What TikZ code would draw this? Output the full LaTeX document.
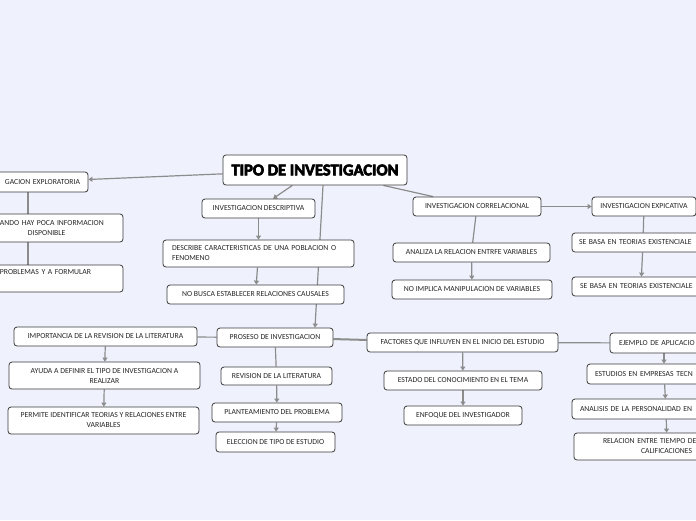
\documentclass[tikz,border=0pt]{standalone}
\usepackage{fontspec}
\setmainfont{Carlito}
\newfontfamily\titlefont{Carlito Bold}[FakeBold=4]
\usepackage{tikz}
\usepackage{xcolor}
\usetikzlibrary{arrows.meta, calc}

\definecolor{pagebg}{HTML}{EFF2FD}
\definecolor{linegray}{HTML}{8C8C8C}
\definecolor{boxline}{HTML}{3A3A3A}

\pgfdeclarelayer{bg}
\pgfdeclarelayer{edges}
\pgfsetlayers{bg,edges,main}

\begin{document}
\begin{tikzpicture}[
    x=1pt, y=-1pt,
    box/.style={rectangle, draw=boxline, fill=white, line width=0.8pt, rounded corners=3pt, inner sep=0pt, align=center, minimum height=19pt, text=black!85, font=\fontsize{7.7}{10}\selectfont},
    titlebox/.style={box, minimum width=184pt, minimum height=30pt, text=black, font=\titlefont\fontsize{16.5}{18}\selectfont},
    arrow/.style={-{Triangle[length=4pt,width=5pt]}, line width=1.2pt, draw=linegray},
    link/.style={line width=1.2pt, draw=linegray}
]
    \useasboundingbox (0,0) rectangle (696,520);
    \begin{pgfonlayer}{bg}
        \fill[pagebg] (0,0) rectangle (696,520);
    \end{pgfonlayer}
    \clip (0,0) rectangle (696,520);

    % Central topic
    \node[titlebox] (title) at (315,170) {TIPO DE INVESTIGACION};

    % Exploratoria branch (cut at the left edge)
    \node[box, minimum width=120pt, minimum height=20pt, text width=104pt, align=right] (explor) at (28,182) {GACION EXPLORATORIA};
    \node[box, minimum width=190pt, minimum height=28pt, text width=190pt, align=left] (cuando) at (28,228) {\hspace*{67pt}ANDO HAY POCA INFORMACION\\\hspace*{95pt}DISPONIBLE};
    \node[box, minimum width=190pt, minimum height=27pt, text width=190pt, align=left] (problemas) at (28,278.5) {\hspace*{67pt}PROBLEMAS Y A FORMULAR\\\strut};

    % Descriptiva branch
    \node[box, minimum width=113pt] (desc) at (258.5,208.5) {INVESTIGACION DESCRIPTIVA};
    \node[box, minimum height=27pt, text width=173pt, inner xsep=9pt, align=left] (describe) at (258.5,253.5) {DESCRIBE CARACTERISTICAS DE UNA POBLACION O\\FENOMENO};
    \node[box, minimum width=177pt] (nobusca) at (255.5,294.5) {NO BUSCA ESTABLECER RELACIONES CAUSALES};

    % Correlacional branch
    \node[box, minimum width=128pt] (corr) at (477,206.5) {INVESTIGACION CORRELACIONAL};
    \node[box, minimum width=157pt] (analiza) at (471.5,252.5) {ANALIZA LA RELACION ENTRFE VARIABLES};
    \node[box, minimum width=160pt] (noimplica) at (472,289.5) {NO IMPLICA MANIPULACION DE VARIABLES};

    % Explicativa branch (cut at the right edge)
    \node[box, minimum width=104pt] (expl) at (644,206.5) {INVESTIGACION EXPICATIVA};
    \node[box, text width=128pt, inner xsep=7pt, align=left] (sebasa1) at (643,242.5) {\mbox{SE BASA EN TEORIAS EXISTENCIALE}};
    \node[box, text width=122pt, inner xsep=8pt, align=left] (sebasa2) at (641,286.5) {\mbox{SE BASA EN TEORIAS EXISTENCIALE}};

    % Proseso branch
    \node[box, minimum width=116pt] (proseso) at (275,337.5) {PROSESO DE INVESTIGACION};
    \node[box, minimum width=183pt] (importancia) at (105.5,336.5) {IMPORTANCIA DE LA REVISION DE LA LITERATURA};
    \node[box, minimum width=191pt, minimum height=27pt] (ayuda) at (104.5,375.5) {AYUDA A DEFINIR EL TIPO DE INVESTIGACION A\\REALIZAR};
    \node[box, minimum width=191pt, minimum height=27pt] (permite) at (103.5,420.5) {PERMITE IDENTIFICAR TEORIAS Y RELACIONES ENTRE\\VARIABLES};
    \node[box, minimum width=111pt, minimum height=18pt] (revision) at (276.5,376) {REVISION DE LA LITERATURA};
    \node[box, minimum width=130pt] (plant) at (277,412.5) {PLANTEAMIENTO DEL PROBLEMA};
    \node[box, minimum width=119pt, minimum height=20pt] (eleccion) at (275.5,442) {ELECCION DE TIPO DE ESTUDIO};

    % Factores branch
    \node[box, minimum width=191pt] (factores) at (462.5,342.5) {FACTORES QUE INFLUYEN EN EL INICIO DEL ESTUDIO};
    \node[box, minimum width=158pt] (estado) at (463,380.5) {ESTADO DEL CONOCIMIENTO EN EL TEMA};
    \node[box, minimum width=118pt] (enfoque) at (463,415.5) {ENFOQUE DEL INVESTIGADOR};

    % Ejemplo branch (cut at the right edge)
    \node[box, minimum height=20pt, text width=90pt, inner xsep=9pt, align=left] (ejemplo) at (664,343) {\mbox{EJEMPLO DE APLICACIO}};
    \node[box, minimum height=20pt, text width=138pt, inner xsep=8pt, align=left] (estudios) at (664,374) {\mbox{ESTUDIOS EN EMPRESAS TECN}};
    \node[box, minimum height=20pt, text width=172pt, inner xsep=8pt, align=left] (analisis) at (666,409) {\mbox{ANALISIS DE LA PERSONALIDAD EN}};
    \node[box, minimum height=27pt, text width=186pt, align=left] (relacion) at (667,446.5) {\hspace*{29pt}\mbox{RELACION ENTRE TIEMPO DE}\\\hspace*{67pt}CALIFICACIONES};

    % Flows
    \begin{pgfonlayer}{edges}
    \draw[arrow] (title) -- (explor);
    \draw[link] (explor) -- (cuando);
    \draw[link] (cuando) -- (problemas);

    \draw[arrow] (title) -- (desc);
    \draw[arrow] (desc) -- (describe);
    \draw[arrow] (describe) -- (nobusca);
    \draw[arrow] ([xshift=8pt]title.south) -- ([xshift=40pt]proseso.north);

    \draw[link] (title) -- (corr);
    \draw[link] (corr) -- (analiza);
    \draw[arrow] (analiza) -- (noimplica);
    \draw[arrow] (corr) -- (expl);
    \draw[link] (expl) -- (sebasa1);
    \draw[arrow] (sebasa1) -- (sebasa2);

    \draw[link] (proseso) -- (importancia);
    \draw[arrow] (importancia) -- (ayuda);
    \draw[arrow] (ayuda) -- (permite);
    \draw[link] (proseso) -- (revision);
    \draw[arrow] (revision) -- (plant);
    \draw[arrow] (plant) -- (eleccion);

    \draw[link, line width=2pt] (proseso) -- (factores);
    \draw[arrow] (factores) -- (estado);
    \draw[arrow] (estado) -- (enfoque);
    \draw[link] (factores) -- (ejemplo);
    \draw[arrow] (ejemplo) -- (estudios);
    \draw[arrow] (estudios) -- (analisis);
    \draw[arrow] (analisis) -- (relacion);
    \end{pgfonlayer}

\end{tikzpicture}
\end{document}
